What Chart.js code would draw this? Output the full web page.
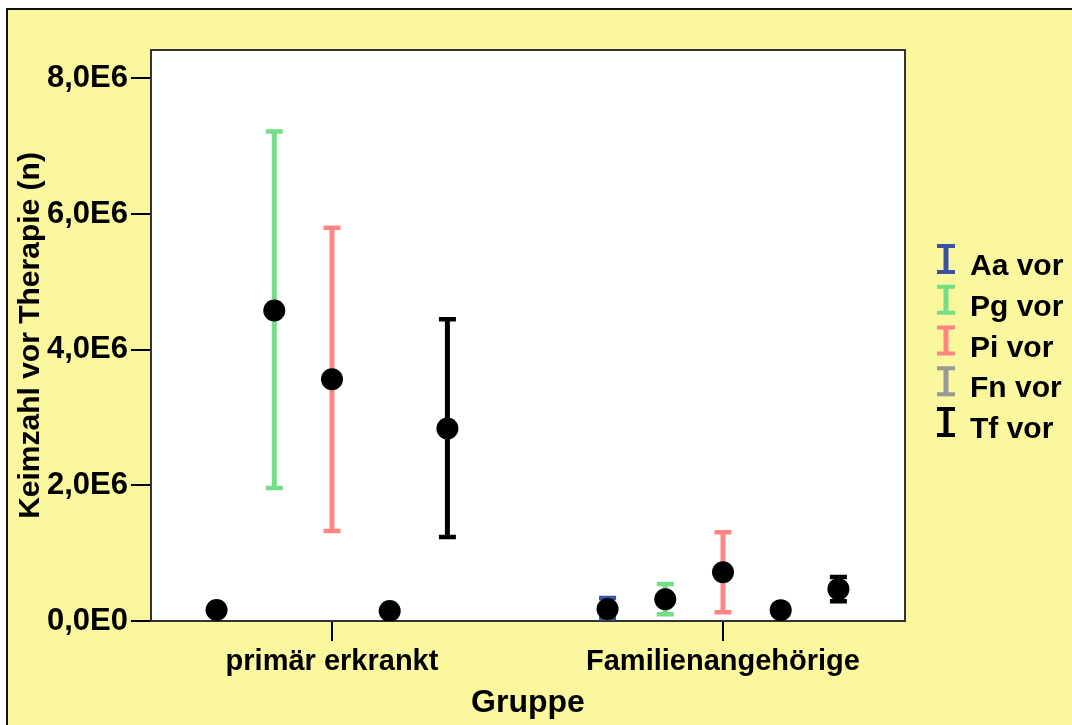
<!DOCTYPE html>
<html><head><meta charset="utf-8">
<script src="https://cdn.jsdelivr.net/npm/chart.js@4/dist/chart.umd.min.js"></script>
<style>
html,body{margin:0;padding:0;background:#fff;width:1072px;height:725px;overflow:hidden}
#wrap{position:absolute;left:6px;top:8px;width:1064px;height:715px;border-left:2px solid #111;border-top:2px solid #111;background:#faf79e}
canvas{display:block}
</style></head><body>
<div id="wrap"><canvas id="c" width="1064" height="715"></canvas></div>
<script>
// ---- data ----
const categories = ['primär erkrankt', 'Familienangehörige'];
const seriesNames = ['Aa vor', 'Pg vor', 'Pi vor', 'Fn vor', 'Tf vor'];
const seriesColors = ['#3a52a3', '#72de86', '#ff8585', '#999999', '#000000'];

const meanAa = [162000, 177000];
const lowAa  = [125000, 40000];
const highAa = [200000, 340000];

const meanPg = [4580000, 320000];
const lowPg  = [1960000, 100000];
const highPg = [7220000, 545000];

const meanPi = [3565000, 720000];
const lowPi  = [1326000, 130000];
const highPi = [5800000, 1310000];

const meanFn = [147000, 160000];
const lowFn  = [110000, 125000];
const highFn = [185000, 195000];

const meanTf = [2840000, 470000];
const lowTf  = [1240000, 290000];
const highTf = [4450000, 650000];

const yTickValues = [0, 2000000, 4000000, 6000000, 8000000];
const yTickLabels = ['0,0E0', '2,0E6', '4,0E6', '6,0E6', '8,0E6'];

const means = [meanAa, meanPg, meanPi, meanFn, meanTf];
const lows  = [lowAa, lowPg, lowPi, lowFn, lowTf];
const highs = [highAa, highPg, highPi, highFn, highTf];

// ---- layout ----
const seriesOffset = 0.1476;
const FONT = "'Liberation Sans', Arial, sans-serif";
Chart.defaults.font.family = FONT;
Chart.defaults.font.weight = 'bold';
Chart.defaults.color = '#000';

const datasets = seriesNames.map((name, s) => ({
  label: name,
  data: categories.map((c, i) => ({x: i + (s - 2) * seriesOffset, y: means[s][i]})),
  pointRadius: 11,
  pointHoverRadius: 11,
  pointBackgroundColor: '#000',
  pointBorderColor: '#000',
  pointBorderWidth: 0,
  showLine: false
}));

const bgPlugin = {
  id: 'bg',
  beforeDraw(chart) {
    const {ctx, chartArea: a} = chart;
    ctx.save();
    ctx.fillStyle = '#ffffff';
    ctx.fillRect(a.left, a.top, a.right - a.left, a.bottom - a.top);
    ctx.restore();
  },
  beforeDatasetsDraw(chart) {
    const {ctx, chartArea: a, scales: {x, y}} = chart;
    ctx.save();
    ctx.strokeStyle = '#333';
    ctx.lineWidth = 2;
    ctx.strokeRect(a.left, a.top, a.right - a.left, a.bottom - a.top);
    // error bars
    seriesNames.forEach((n, s) => {
      categories.forEach((c, i) => {
        const px = x.getPixelForValue(i + (s - 2) * seriesOffset);
        const yl = y.getPixelForValue(lows[s][i]);
        const yh = y.getPixelForValue(highs[s][i]);
        ctx.strokeStyle = seriesColors[s];
        ctx.lineWidth = 5;
        ctx.beginPath();
        ctx.moveTo(px, yl); ctx.lineTo(px, yh);
        ctx.stroke();
        ctx.lineWidth = 4.5;
        ctx.beginPath();
        ctx.moveTo(px - 8.5, yl); ctx.lineTo(px + 8.5, yl);
        ctx.moveTo(px - 8.5, yh); ctx.lineTo(px + 8.5, yh);
        ctx.stroke();
      });
    });
    ctx.restore();
  },
  afterDraw(chart) {
    const {ctx} = chart;
    ctx.save();
    ctx.font = "bold 30px " + FONT;
    ctx.textBaseline = 'alphabetic';
    ctx.textAlign = 'left';
    seriesNames.forEach((n, s) => {
      const base = 265 + s * 40.75;
      const cx = 938, cy = base - 16;
      ctx.strokeStyle = seriesColors[s];
      ctx.lineWidth = 5;
      ctx.beginPath();
      ctx.moveTo(cx, cy - 14); ctx.lineTo(cx, cy + 14);
      ctx.stroke();
      ctx.lineWidth = 4;
      ctx.beginPath();
      ctx.moveTo(cx - 9, cy - 13); ctx.lineTo(cx + 9, cy - 13);
      ctx.moveTo(cx - 9, cy + 13); ctx.lineTo(cx + 9, cy + 13);
      ctx.stroke();
      ctx.fillStyle = '#000';
      ctx.fillText(n, 962, base);
    });
    ctx.restore();
  }
};

new Chart(document.getElementById('c'), {
  type: 'scatter',
  data: {datasets},
  plugins: [bgPlugin],
  options: {
    responsive: false,
    animation: false,
    events: [],
    layout: {padding: {top: 40, right: 167, left: 0, bottom: 0}},
    plugins: {legend: {display: false}, tooltip: {enabled: false}},
    scales: {
      x: {
        type: 'linear',
        min: -0.4629,
        max: 1.4655,
        afterBuildTicks(scale) { scale.ticks = categories.map((c, i) => ({value: i})); },
        afterFit(scale) { scale.height = 104; },
        ticks: {
          autoSkip: false, maxRotation: 0, padding: 4,
          font: {size: 29, weight: 'bold'}, color: '#000',
          callback: (v) => categories[v]
        },
        grid: {drawOnChartArea: false, drawTicks: true, tickLength: 20, color: '#000', lineWidth: 2},
        border: {display: false},
        title: {display: true, text: 'Gruppe', font: {size: 32, weight: 'bold'}, color: '#000', padding: {top: 0, bottom: 3}}
      },
      y: {
        type: 'linear',
        min: 0,
        max: 8420000,
        afterBuildTicks(scale) { scale.ticks = yTickValues.map(v => ({value: v})); },
        afterFit(scale) { scale.width = 143; },
        ticks: {
          padding: 3,
          font: {size: 31, weight: 'bold'}, color: '#000',
          callback: (v) => yTickLabels[yTickValues.indexOf(v)]
        },
        grid: {drawOnChartArea: false, drawTicks: true, tickLength: 20, color: '#000', lineWidth: 2},
        border: {display: false},
        title: {display: true, text: 'Keimzahl vor Therapie (n)', font: {size: 30, weight: 'bold'}, color: '#000', padding: {top: 5, bottom: 0}}
      }
    }
  }
});
</script>
</body></html>
